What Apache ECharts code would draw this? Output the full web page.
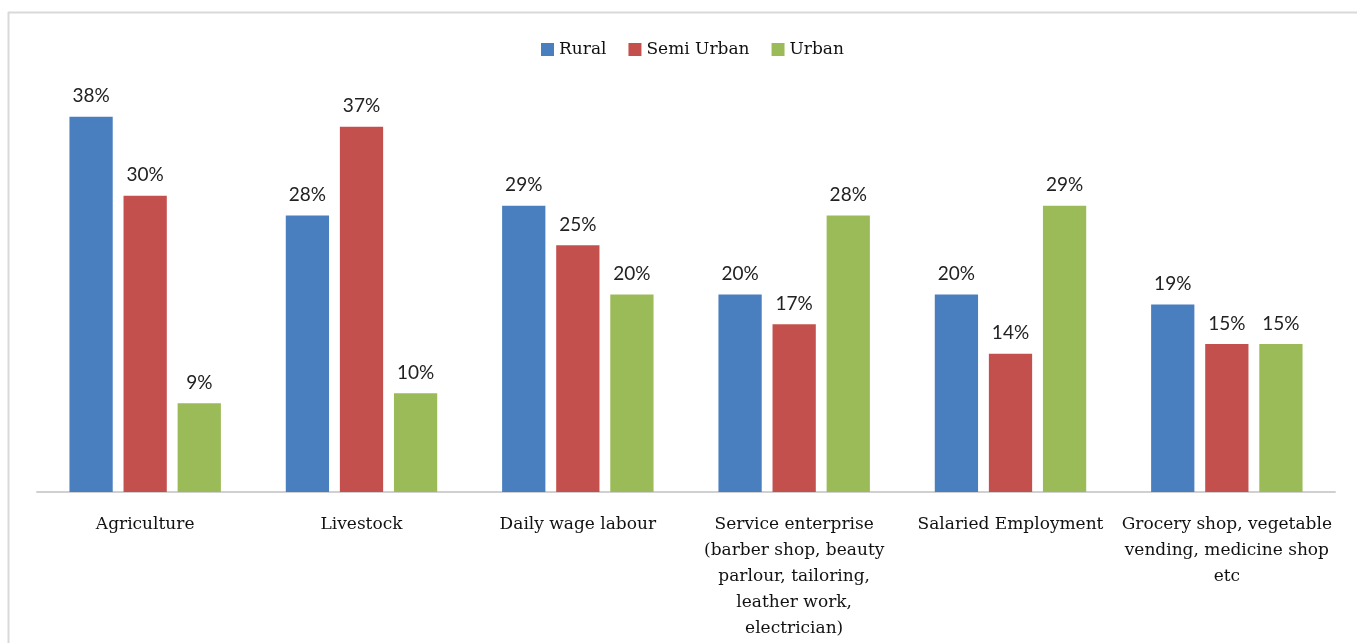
<!DOCTYPE html>
<html>
<head>
<meta charset="utf-8">
<script src="https://cdn.jsdelivr.net/npm/echarts@6/dist/echarts.min.js"></script>
<style>
html,body{margin:0;padding:0;background:#fff;}
#chart{width:1357px;height:643px;}
</style>
</head>
<body>
<div id="chart"></div>
<script>
const categories = [
  "Agriculture",
  "Livestock",
  "Daily wage labour",
  "Service enterprise\n(barber shop, beauty\nparlour, tailoring,\nleather work,\nelectrician)",
  "Salaried Employment",
  "Grocery shop, vegetable\nvending, medicine shop\netc"
];
const rural = [38, 28, 29, 20, 20, 19];
const semiUrban = [30, 37, 25, 17, 14, 15];
const urban = [9, 10, 20, 28, 29, 15];
const seriesNames = ["Rural", "Semi Urban", "Urban"];
const colors = ["#4a7fbf", "#c4504e", "#9bbb59"];

const serif = "'DejaVu Serif', 'Liberation Serif', serif";
const sans = "Lato, 'Liberation Sans', sans-serif";

const chart = echarts.init(document.getElementById('chart'), null, {renderer: 'canvas'});
const mk = (name, data, color) => ({
  name: name,
  type: 'bar',
  data: data,
  itemStyle: {color: color},
  barGap: '25%',
  barCategoryGap: '30%',
  label: {
    show: true,
    position: 'top',
    distance: 11,
    formatter: '{c}%',
    fontFamily: sans,
    fontSize: 19,
    color: '#222'
  }
});
chart.setOption({
  animation: false,
  color: colors,
  graphic: [
    {type: 'line', shape: {x1: 8, y1: 12.5, x2: 1357, y2: 12.5}, style: {stroke: '#d9d9d9', lineWidth: 2}},
    {type: 'line', shape: {x1: 8.5, y1: 12, x2: 8.5, y2: 643}, style: {stroke: '#d9d9d9', lineWidth: 2}}
  ],
  legend: {
    data: seriesNames,
    top: 36,
    left: 536,
    itemWidth: 13,
    itemHeight: 13,
    itemGap: 22,
    icon: 'rect',
    textStyle: {fontFamily: serif, fontSize: 17, color: '#111'}
  },
  grid: {left: 37, right: 22, top: 97, bottom: 151, containLabel: false},
  xAxis: {
    type: 'category',
    data: categories,
    axisLine: {lineStyle: {color: '#d0d0d0', width: 2}},
    axisTick: {show: false},
    axisLabel: {
      interval: 0,
      margin: 20,
      fontFamily: serif,
      fontSize: 17,
      lineHeight: 26,
      color: '#111',
      align: 'center'
    }
  },
  yAxis: {
    type: 'value',
    min: 0,
    max: 40,
    interval: 10,
    show: false,
    splitLine: {show: false}
  },
  series: [
    mk(seriesNames[0], rural, colors[0]),
    mk(seriesNames[1], semiUrban, colors[1]),
    mk(seriesNames[2], urban, colors[2])
  ]
});
</script>
</body>
</html>
